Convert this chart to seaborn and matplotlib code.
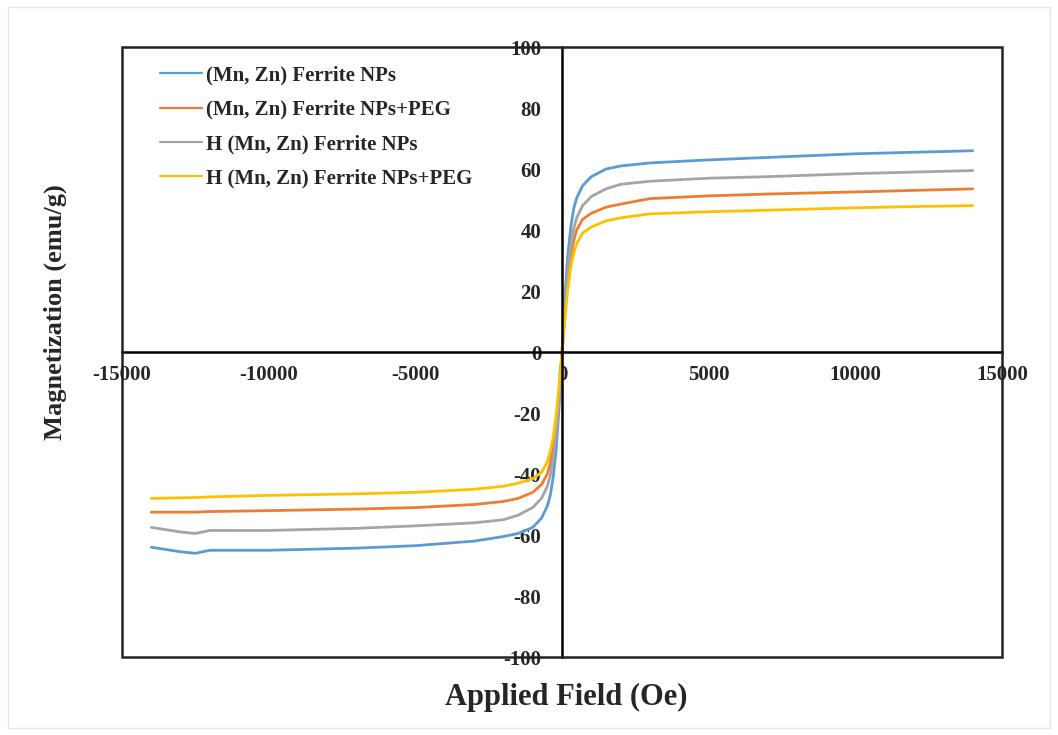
import matplotlib
matplotlib.use("Agg")
import matplotlib.pyplot as plt
import pandas as pd
import seaborn as sns
from matplotlib.ticker import MultipleLocator
from matplotlib.patches import Rectangle

# applied field (Oe)
field = [-14000, -13000, -12500, -12000, -10000, -7000, -5000, -3000, -2000, -1500,
         -1000, -700, -500, -400, -300, -200, -100, 0, 100, 200,
         300, 400, 500, 700, 1000, 1500, 2000, 3000, 5000, 7000,
         10000, 12000, 14000]

# magnetization (emu/g)
mnzn = [-64, -65.5, -66, -65, -65, -64.3, -63.5, -62, -60.5, -59.5,
        -57.5, -54.5, -50.5, -47, -41, -32, -18, 0, 18, 32,
        41, 47, 50.5, 54.5, 57.5, 60, 61, 62, 63, 63.8,
        65, 65.5, 66]
mnzn_peg = [-52.5, -52.5, -52.5, -52.3, -52, -51.5, -51, -50, -49, -48,
            -46, -43.5, -40, -36.5, -31.5, -24, -13, 0, 13, 24,
            31.5, 36.5, 40, 43.5, 45.5, 47.5, 48.5, 50.3, 51.2, 51.8,
            52.5, 53, 53.5]
h_mnzn = [-57.5, -59, -59.5, -58.5, -58.5, -57.8, -57, -56, -55, -53.5,
          -51, -48, -44, -40.5, -35, -27, -15, 0, 15, 27,
          35, 40.5, 44, 48, 51, 53.5, 55, 56, 57, 57.5,
          58.5, 59, 59.5]
h_mnzn_peg = [-48, -47.8, -47.7, -47.5, -47, -46.5, -46, -45, -44, -43,
              -41.5, -39.5, -36, -32.5, -28, -21, -11, 0, 11, 21,
              28, 32.5, 35.5, 39, 41, 43, 44, 45.3, 46, 46.5,
              47.3, 47.7, 48]

labels = ["(Mn, Zn) Ferrite NPs", "(Mn, Zn) Ferrite NPs+PEG",
          "H (Mn, Zn) Ferrite NPs", "H (Mn, Zn) Ferrite NPs+PEG"]
colors = ["#5B9BD5", "#ED7D31", "#A5A5A5", "#FFC000"]

frames = []
for name, vals in zip(labels, [mnzn, mnzn_peg, h_mnzn, h_mnzn_peg]):
    frames.append(pd.DataFrame({"field": field, "mag": vals, "sample": name}))
df = pd.concat(frames, ignore_index=True)

sns.set_theme(style="white")
plt.rcParams["font.family"] = ["Liberation Serif", "DejaVu Serif"]
plt.rcParams["font.weight"] = "bold"
plt.rcParams["axes.labelweight"] = "bold"
plt.rcParams["axes.unicode_minus"] = False

fig = plt.figure(figsize=(10.58, 7.35), dpi=100)
ax = fig.add_axes([0.1153, 0.1061, 0.8318, 0.8299])

sns.lineplot(ax=ax, data=df, x="field", y="mag", hue="sample", hue_order=labels,
             palette=colors, linewidth=2, errorbar=None, sort=True)

ax.set_xlim(-15000, 15000)
ax.set_ylim(-100, 100)
ax.xaxis.set_major_locator(MultipleLocator(5000))
ax.xaxis.set_minor_locator(MultipleLocator(1000))
ax.yaxis.set_major_locator(MultipleLocator(20))
ax.yaxis.set_minor_locator(MultipleLocator(4))

# axes crossing at the origin plus an outer frame
ax.spines["left"].set_position(("data", 0))
ax.spines["bottom"].set_position(("data", 0))
ax.spines["top"].set_visible(False)
ax.spines["right"].set_visible(False)
for s in ["left", "bottom"]:
    ax.spines[s].set_linewidth(1.8)
    ax.spines[s].set_color("black")
ax.add_patch(Rectangle((0, 0), 1, 1, transform=ax.transAxes, fill=False,
                       edgecolor="#222222", linewidth=1.8, clip_on=False, zorder=5))

ax.tick_params(axis="x", which="both", direction="in", length=4, width=1.5,
               color="black", pad=9, labelsize=15)
ax.tick_params(axis="y", which="both", direction="in", length=5, width=1.5,
               color="black", pad=15, labelsize=15)
for t in ax.get_xticklabels() + ax.get_yticklabels():
    t.set_fontweight("bold")

ax.set_xlabel("Applied Field (Oe)", fontsize=22, fontweight="bold")
ax.set_ylabel("Magnetization (emu/g)", fontsize=19, fontweight="bold")
ax.xaxis.set_label_coords(0.505, -0.043)
ax.yaxis.set_label_coords(-0.063, 0.566)

leg = ax.get_legend()
handles = leg.legend_handles
for h in handles:
    h.set_linewidth(1.6)
ax.legend(handles, labels, loc="upper left", bbox_to_anchor=(0.022, 1.0),
          frameon=False, handlelength=2.0, handletextpad=0.2,
          labelspacing=0.68, prop={"weight": "bold", "size": 15})

# faint outer border of the figure
fig.patches.append(Rectangle((0.008, 0.01), 0.984, 0.98, transform=fig.transFigure,
                             fill=False, edgecolor="#e6e6e6", linewidth=1))

fig.savefig("out.png", dpi=100)
